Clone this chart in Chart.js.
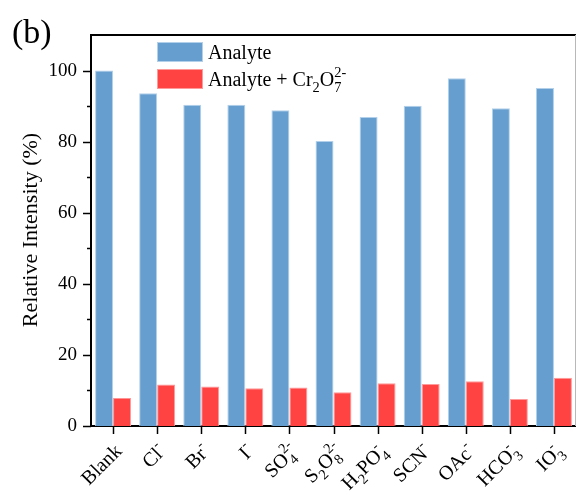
<!DOCTYPE html>
<html>
<head>
<meta charset="utf-8">
<script src="https://cdn.jsdelivr.net/npm/chart.js@4/dist/chart.umd.min.js"></script>
<style>
  html, body { margin: 0; padding: 0; background: #fff; }
  #wrap { width: 576px; height: 499px; }
</style>
</head>
<body>
<div id="wrap"><canvas id="chart" width="576" height="499"></canvas></div>
<script>
// labels use _x for subscript and ^xx for superscript
const categories = ["Blank", "Cl^-", "Br^-", "I^-", "SO_4^2-", "S_2O_8^2-", "H_2PO_4^-", "SCN^-", "OAc^-", "HCO_3^-", "IO_3^-"];
const analyte = [100, 93.6, 90.4, 90.4, 88.8, 80.2, 86.9, 90.1, 97.8, 89.4, 95.1];
const withCr = [7.9, 11.7, 11.1, 10.6, 10.8, 9.5, 12.0, 11.8, 12.6, 7.6, 13.6];
const seriesNames = ["Analyte", "Analyte + Cr_2O_7^2-"];
const yLabelled = [0, 20, 40, 60, 80, 100];

const COLORS = {
  blue: "#659ecf",
  blueEdge: "#b3d0ea",
  red: "#ff4343",
  redEdge: "#ff9a9a",
};
const FONT = "'Liberation Serif', 'DejaVu Serif', serif";

function parseRich(s) {
  const out = [];
  let buf = "";
  let i = 0;
  const flush = () => { if (buf) { out.push({ t: buf, k: "n" }); buf = ""; } };
  while (i < s.length) {
    const c = s[i];
    if (c === "_") {
      flush();
      out.push({ t: s[i + 1], k: "sub" });
      i += 2;
    } else if (c === "^") {
      flush();
      let j = i + 1, t = "";
      while (j < s.length && /[0-9+\-]/.test(s[j])) { t += s[j]; j++; }
      out.push({ t, k: "sup" });
      i = j;
    } else {
      buf += c;
      i++;
    }
  }
  flush();
  return out;
}

// lay out segments, superscript after a subscript is stacked above it
function layoutRich(ctx, s, size) {
  const segs = parseRich(s);
  let x = 0, lastSub = null;
  const placed = [];
  for (const seg of segs) {
    const fs = seg.k === "n" ? size : size * 0.72;
    ctx.font = `${fs}px ${FONT}`;
    const w = ctx.measureText(seg.t).width;
    let sx = x;
    if (seg.k === "sup" && lastSub) sx = lastSub.x;
    const dy = seg.k === "sub" ? size * 0.3 : seg.k === "sup" ? -size * 0.45 : 0;
    placed.push({ t: seg.t, x: sx, dy, fs });
    if (seg.k === "sub") lastSub = { x: sx };
    else lastSub = null;
    x = Math.max(x, sx + w);
  }
  return { placed, width: x };
}

function drawRich(ctx, s, x, y, size, align) {
  const lay = layoutRich(ctx, s, size);
  const x0 = align === "right" ? x - lay.width : x;
  ctx.textAlign = "left";
  for (const p of lay.placed) {
    ctx.font = `${p.fs}px ${FONT}`;
    ctx.fillText(p.t, x0 + p.x, y + p.dy);
  }
}

const decorations = {
  id: "decorations",
  afterDraw(chart) {
    const { ctx, chartArea: a, scales } = chart;
    ctx.save();
    ctx.fillStyle = "#000";
    ctx.strokeStyle = "#000";

    // top frame and right edge
    ctx.lineWidth = 2;
    ctx.beginPath();
    ctx.moveTo(a.left - 1, a.top);
    ctx.lineTo(a.right, a.top);
    ctx.stroke();
    ctx.strokeStyle = "#b8b8b8";
    ctx.lineWidth = 1;
    ctx.beginPath();
    ctx.moveTo(575.5, a.top);
    ctx.lineTo(575.5, a.bottom);
    ctx.stroke();

    // y ticks, major and minor
    ctx.strokeStyle = "#000";
    ctx.lineWidth = 1.5;
    for (const t of scales.y.ticks) {
      if (t.value >= 110) continue;
      const py = Math.round(scales.y.getPixelForValue(t.value)) + 0.5;
      const len = yLabelled.includes(t.value) ? 8 : 4;
      ctx.beginPath();
      ctx.moveTo(a.left - len, py);
      ctx.lineTo(a.left, py);
      ctx.stroke();
    }

    // x ticks and rich labels
    categories.forEach((lab, i) => {
      const px = Math.round(scales.x.getPixelForValue(i)) + 0.5;
      ctx.beginPath();
      ctx.moveTo(px, a.bottom);
      ctx.lineTo(px, a.bottom + 8);
      ctx.stroke();
      ctx.save();
      ctx.translate(px + 5, a.bottom + 22);
      ctx.rotate(-Math.PI / 4);
      ctx.textBaseline = "alphabetic";
      drawRich(ctx, lab, 0, 6, 20, "right");
      ctx.restore();
    });

    // y title
    ctx.save();
    ctx.translate(31, 230);
    ctx.rotate(-Math.PI / 2);
    ctx.font = `22px ${FONT}`;
    ctx.textAlign = "center";
    ctx.textBaseline = "middle";
    ctx.fillText("Relative Intensity (%)", 0, 0);
    ctx.restore();

    // panel letter
    ctx.font = `34px ${FONT}`;
    ctx.textAlign = "left";
    ctx.textBaseline = "alphabetic";
    ctx.fillText("(b)", 12, 43);

    // legend
    const boxes = [[COLORS.blue, COLORS.blueEdge], [COLORS.red, COLORS.redEdge]];
    seriesNames.forEach((name, i) => {
      const by = 42 + i * 27;
      ctx.fillStyle = boxes[i][0];
      ctx.fillRect(157, by, 46, 20);
      ctx.strokeStyle = boxes[i][1];
      ctx.lineWidth = 1;
      ctx.strokeRect(157.5, by + 0.5, 45, 19);
      ctx.fillStyle = "#000";
      ctx.textBaseline = "alphabetic";
      drawRich(ctx, name, 208, by + 17, 20, "left");
    });
    ctx.restore();
  },
};

new Chart(document.getElementById("chart"), {
  type: "bar",
  data: {
    labels: categories,
    datasets: [
      { label: seriesNames[0], data: analyte, backgroundColor: COLORS.blue, borderColor: COLORS.blueEdge, borderWidth: 1 },
      { label: seriesNames[1], data: withCr, backgroundColor: COLORS.red, borderColor: COLORS.redEdge, borderWidth: 1 },
    ],
  },
  options: {
    responsive: false,
    animation: false,
    devicePixelRatio: 1,
    layout: { padding: { top: 35, right: 0, left: 0, bottom: 0 } },
    datasets: { bar: { barPercentage: 1, categoryPercentage: 0.815 } },
    plugins: { legend: { display: false }, tooltip: { enabled: false } },
    scales: {
      x: {
        grid: { display: false },
        border: { display: true, color: "#000", width: 2 },
        ticks: { display: false },
        afterFit: (s) => { s.height = 73; },
      },
      y: {
        min: 0,
        max: 110,
        grid: { display: false, drawTicks: false },
        border: { display: true, color: "#000", width: 2 },
        ticks: {
          stepSize: 10,
          padding: 14,
          color: "#000",
          font: { family: FONT, size: 19 },
          callback: (v) => (yLabelled.includes(v) ? String(v) : ""),
        },
        afterFit: (s) => { s.width = 91; },
      },
    },
  },
  plugins: [decorations],
});
</script>
</body>
</html>
